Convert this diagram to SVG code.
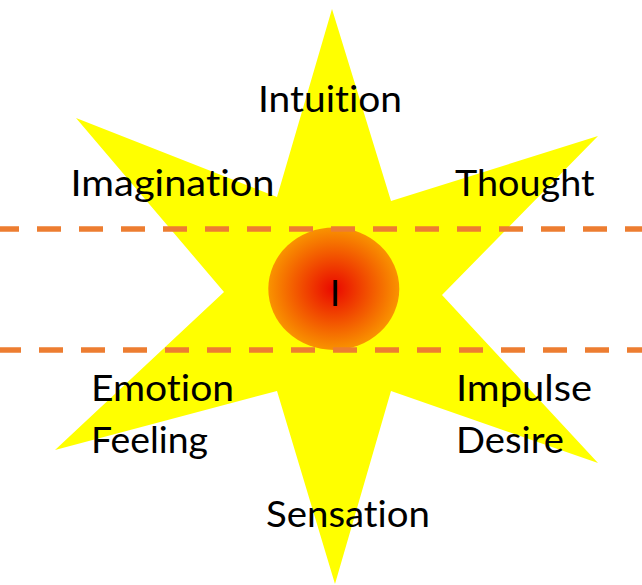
<svg xmlns="http://www.w3.org/2000/svg" width="642" height="585" viewBox="0 0 642 585">
  <defs>
    <radialGradient id="core" cx="0.5" cy="0.5" r="0.5">
      <stop offset="0" stop-color="#EA0800"/>
      <stop offset="1" stop-color="#F99300"/>
    </radialGradient>
  </defs>
  <style>
    .lbl { font-family: Lato, "Open Sans", "Liberation Sans", sans-serif; font-size: 37.5px; fill: #000000; font-variant-ligatures: none; font-feature-settings: "liga" 0, "clig" 0; }
    .dash { stroke: #ED7D31; stroke-width: 5.5; stroke-dasharray: 24 18; fill: none; }
  </style>
  <rect width="642" height="585" fill="#FFFFFF"/>
  <g id="star">
    <polygon fill="#FFFF00" points="332,9 391,201 598,136 442,295 598,463 391,391 335,584 277,391 55,450 224,292 76,118 277,197"/>
  </g>
  <g id="core-node">
    <ellipse cx="333.8" cy="288.8" rx="65.5" ry="61.2" fill="url(#core)"/>
  </g>
  <g id="connectors">
    <line class="dash" x1="-5" y1="229" x2="642" y2="229"/>
    <line class="dash" x1="-3" y1="350" x2="642" y2="350"/>
  </g>
  <g id="node-I"><text class="lbl" x="335" y="306" text-anchor="middle">I</text></g>
  <g id="node-intuition"><text class="lbl" x="258" y="112" textLength="144" lengthAdjust="spacingAndGlyphs">Intuition</text></g>
  <g id="node-imagination"><text class="lbl" x="70.5" y="196" textLength="204" lengthAdjust="spacingAndGlyphs">Imagination</text></g>
  <g id="node-thought"><text class="lbl" x="455" y="196" textLength="139.5" lengthAdjust="spacingAndGlyphs">Thought</text></g>
  <g id="node-emotion">
    <text class="lbl" x="91" y="401" textLength="143" lengthAdjust="spacingAndGlyphs">Emotion</text>
    <text class="lbl" x="91" y="453" textLength="117" lengthAdjust="spacingAndGlyphs">Feeling</text>
  </g>
  <g id="node-impulse">
    <text class="lbl" x="456" y="401" textLength="136" lengthAdjust="spacingAndGlyphs">Impulse</text>
    <text class="lbl" x="456" y="453" textLength="108" lengthAdjust="spacingAndGlyphs">Desire</text>
  </g>
  <g id="node-sensation"><text class="lbl" x="266" y="527" textLength="164" lengthAdjust="spacingAndGlyphs">Sensation</text></g>
</svg>
